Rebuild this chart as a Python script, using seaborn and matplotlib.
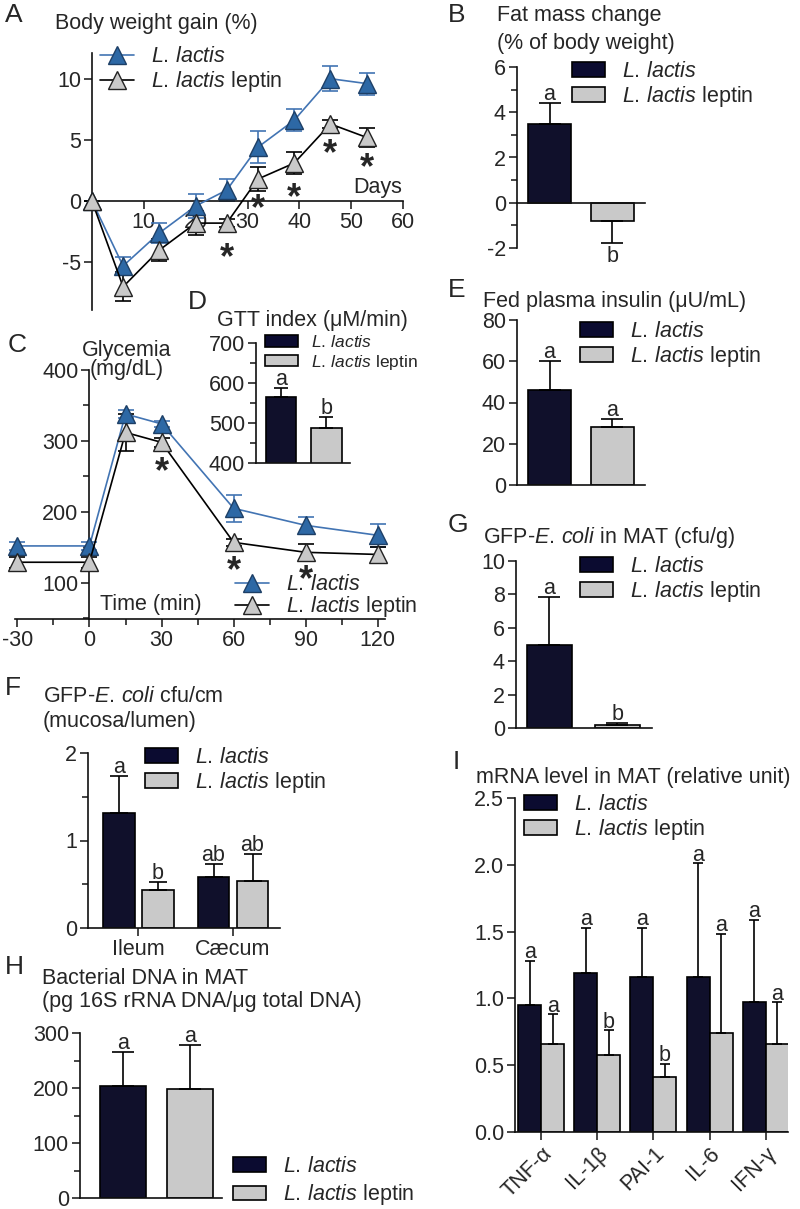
import numpy as np
import matplotlib
matplotlib.use('Agg')
import matplotlib.pyplot as plt
from matplotlib.patches import Patch
from matplotlib.lines import Line2D
from matplotlib.ticker import MultipleLocator
import pandas as pd
import seaborn as sns

sns.set_style('ticks')
plt.rcParams['font.family'] = ['Liberation Sans', 'DejaVu Sans']
plt.rcParams['mathtext.fontset'] = 'custom'
plt.rcParams['mathtext.rm'] = 'Liberation Sans'
plt.rcParams['mathtext.it'] = 'Liberation Sans:italic'
plt.rcParams['axes.unicode_minus'] = False

groups = [r'$\it{L.\,lactis}$', r'$\it{L.\,lactis}$ leptin']

# A - body weight gain
days = [0, 6, 13, 20, 26, 32, 39, 46, 53]
bw_ctrl = [0, -5.3, -2.6, -0.4, 0.9, 4.4, 6.6, 10.0, 9.6]
bw_ctrl_sem = [0, 0.7, 0.8, 1.0, 0.9, 1.3, 0.9, 1.0, 0.9]
bw_lep = [0, -7.0, -4.0, -1.8, -1.8, 1.8, 3.1, 6.3, 5.2]
bw_lep_sem = [0, 1.2, 0.9, 1.0, 0.3, 1.0, 0.9, 0.3, 0.8]
bw_star_day = [26, 32, 39, 46, 53]
bw_star_y = [-3.9, 0.1, 1.0, 4.6, 3.5]

# B - fat mass change
fat = [3.5, -0.8]
fat_sem = [0.9, 1.0]
fat_let = ['a', 'b']

# C - glycemia
gtt_time = [-30, 0, 15, 30, 60, 90, 120]
gly_ctrl = [152, 152, 338, 324, 205, 181, 167]
gly_ctrl_sem = [6, 6, 6, 4, 19, 12, 16]
gly_lep = [129, 129, 312, 298, 157, 143, 140]
gly_lep_sem = [8, 8, 26, 6, 5, 12, 10]
gly_star_t = [30, 60, 90]
gly_star_y = [269, 130, 117]

# D - GTT index
gtt_idx = [565, 488]
gtt_sem = [22, 27]
gtt_let = ['a', 'b']

# E - insulin
insulin = [46, 28]
insulin_sem = [14, 4]
insulin_let = ['a', 'a']

# F - GFP E. coli mucosa/lumen
sites = ['Ileum', 'Cæcum']
muc_ctrl = [1.32, 0.58]
muc_ctrl_sem = [0.42, 0.15]
muc_lep = [0.43, 0.54]
muc_lep_sem = [0.10, 0.31]
muc_let = ['a', 'ab', 'b', 'ab']

# G - GFP E. coli in MAT
mat_cfu = [5.0, 0.18]
mat_cfu_sem = [2.85, 0.12]
mat_cfu_let = ['a', 'b']

# H - bacterial DNA
dna = [203, 198]
dna_sem = [63, 80]
dna_let = ['a', 'a']

# I - mRNA
genes = ['TNF-α', 'IL-1β', 'PAI-1', 'IL-6', 'IFN-γ']
mrna_ctrl = [0.95, 1.19, 1.16, 1.16, 0.97]
mrna_ctrl_sem = [0.33, 0.34, 0.37, 0.85, 0.62]
mrna_lep = [0.66, 0.58, 0.41, 0.74, 0.66]
mrna_lep_sem = [0.22, 0.18, 0.10, 0.74, 0.31]
mrna_let = ['a'] * 5 + ['a', 'b', 'b', 'a', 'a']

navy = '#0b0b30'
lgray = '#c9c9c9'
bline = '#4274b3'
bface = '#2d68a5'
FS = 15.5

W, H = 800, 1209
fig = plt.figure(figsize=(W / 100, H / 100), dpi=100)


def add_ax(l, t, r, b):
    return fig.add_axes([l / W, 1 - b / H, (r - l) / W, (b - t) / H])


def ftxt(x, y, s, size=FS, **kw):
    fig.text(x / W, 1 - y / H, s, fontsize=size, va='center', **kw)


def style(ax):
    sns.despine(ax=ax)
    ax.tick_params(which='major', length=6, width=1.2, labelsize=FS, pad=2)
    ax.tick_params(which='minor', length=4, width=1.2)
    for s in ['left', 'bottom']:
        ax.spines[s].set_linewidth(1.2)
        ax.spines[s].set_color('#111111')
    ax.set_xlabel('')
    ax.set_ylabel('')
    ax.patch.set_alpha(0)


def leg(ax, handles, x, y, fs=FS, sp=0.1, hl=1.55):
    ax.legend(handles, groups, loc='upper left',
              bbox_to_anchor=(x / W, 1 - y / H), bbox_transform=fig.transFigure,
              frameon=False, fontsize=fs, handlelength=hl, handleheight=0.65,
              handletextpad=0.75, labelspacing=sp, borderpad=0, borderaxespad=0,
              numpoints=1)


patch_h = [Patch(facecolor=navy, edgecolor='black', lw=1.2),
           Patch(facecolor=lgray, edgecolor='black', lw=1.2)]


def bars(ax, df, x, hue, width, gap, errs, lets, cap, fs=FS):
    sns.barplot(data=df, x=x, y='value', hue=hue, palette=[navy, lgray],
                width=width, gap=gap, edgecolor='black', linewidth=1.2,
                errorbar=None, legend=False, ax=ax)
    rects = [p for c in ax.containers for p in c]
    for p, e, lab in zip(rects, errs, lets):
        cx = p.get_x() + p.get_width() / 2
        h = p.get_height()
        if h >= 0:
            ax.errorbar(cx, h, yerr=[[0], [e]], fmt='none', ecolor='black',
                        elinewidth=1.2, capsize=cap, capthick=1.2)
            ax.annotate(lab, (cx, h + e), xytext=(0, 2), textcoords='offset points',
                        ha='center', va='baseline', fontsize=fs)
        else:
            ax.errorbar(cx, h, yerr=[[e], [0]], fmt='none', ecolor='black',
                        elinewidth=1.2, capsize=cap, capthick=1.2)
            ax.annotate(lab, (cx, h - e), xytext=(0, -2), textcoords='offset points',
                        ha='center', va='top', fontsize=fs)


def series(ax, x, y, err, lc, fc, ec):
    ax.errorbar(x, y, yerr=err, fmt='none', ecolor=lc, elinewidth=1.2,
                capsize=5.5, capthick=1.2, zorder=2, clip_on=False)
    sns.lineplot(x=x, y=y, color=lc, lw=1.2, marker='^', markersize=13,
                 markerfacecolor=fc, markeredgecolor=ec, markeredgewidth=1.0,
                 ax=ax, zorder=3, clip_on=False)


line_h = [Line2D([0], [0], color=bline, lw=1.2, marker='^', ms=13, mfc=bface, mec='#1d3f66'),
          Line2D([0], [0], color='black', lw=1.2, marker='^', ms=13, mfc=lgray, mec='#222222')]

# ---------- A ----------
ax = add_ax(92, 53, 403, 310)
series(ax, days, bw_ctrl, bw_ctrl_sem, bline, bface, '#1d3f66')
series(ax, days, bw_lep, bw_lep_sem, 'black', lgray, '#222222')
for d, s in zip(bw_star_day, bw_star_y):
    ax.annotate('*', (d, s), xytext=(0, -14), textcoords='offset points',
                ha='center', va='baseline', fontsize=26, fontweight='bold')
style(ax)
ax.spines['bottom'].set_position(('data', 0))
ax.set_xlim(0, 60)
ax.set_ylim(-8.9, 12.1)
ax.set_xticks([10, 20, 30, 40, 50, 60])
ax.set_yticks([-5, 0, 5, 10])
leg(ax, line_h, 100, 46, hl=1.6)
ftxt(5, 15, 'A', size=19)
ftxt(55, 23, 'Body weight gain (%)')
ftxt(353, 188, 'Days')

# ---------- B ----------
ax = add_ax(517, 67, 645, 248)
bars(ax, pd.DataFrame({'g': groups, 'value': fat}), 'g', 'g', 0.67, 0,
     fat_sem, fat_let, 8)
style(ax)
ax.spines['bottom'].set_position(('data', 0))
ax.set_xticks([])
ax.set_xlim(-0.516, 1.516)
ax.set_ylim(-2, 6)
ax.set_yticks([-2, 0, 2, 4, 6])
ax.yaxis.set_minor_locator(MultipleLocator(1))
leg(ax, patch_h, 572, 61)
ftxt(448, 15, 'B', size=19)
ftxt(497, 15, 'Fat mass change')
ftxt(497, 43, '(% of body weight)')

# ---------- C ----------
ax = add_ax(15, 370, 385, 619)
series(ax, gtt_time, gly_ctrl, gly_ctrl_sem, bline, bface, '#1d3f66')
series(ax, gtt_time, gly_lep, gly_lep_sem, 'black', lgray, '#222222')
for t, s in zip(gly_star_t, gly_star_y):
    ax.annotate('*', (t, s), xytext=(0, -14), textcoords='offset points',
                ha='center', va='baseline', fontsize=26, fontweight='bold')
style(ax)
ax.spines['left'].set_position(('data', 0))
ax.set_xlim(-31, 123)
ax.set_ylim(49, 400)
ax.set_xticks([-30, 0, 30, 60, 90, 120])
ax.xaxis.set_minor_locator(MultipleLocator(15))
ax.set_yticks([100, 200, 300, 400])
ax.yaxis.set_minor_locator(MultipleLocator(50))
leg(ax, line_h, 235, 574, sp=-0.05, hl=1.6)
ftxt(8, 345, 'C', size=19)
ftxt(127, 350, 'Glycemia', ha='center')
ftxt(127, 369, '(mg/dL)', ha='center')
ftxt(100, 605, 'Time (min)')

# ---------- D ----------
ax = add_ax(256, 343, 350, 463)
bars(ax, pd.DataFrame({'g': groups, 'value': gtt_idx}), 'g', 'g', 0.68, 0,
     gtt_sem, gtt_let, 5)
style(ax)
ax.set_xticks([])
ax.set_xlim(-0.55, 1.52)
ax.set_ylim(400, 700)
ax.set_yticks([400, 500, 600, 700])
ax.yaxis.set_minor_locator(MultipleLocator(50))
leg(ax, patch_h, 265, 334, fs=12.5, sp=0.15, hl=1.9)
ftxt(188, 302, 'D', size=19)
ftxt(217, 320, 'GTT index (μM/min)')

# ---------- E ----------
ax = add_ax(517, 320, 645, 485)
bars(ax, pd.DataFrame({'g': groups, 'value': insulin}), 'g', 'g', 0.67, 0,
     insulin_sem, insulin_let, 8)
style(ax)
ax.set_xticks([])
ax.set_xlim(-0.516, 1.516)
ax.set_ylim(0, 80)
ax.set_yticks([0, 20, 40, 60, 80])
leg(ax, patch_h, 580, 321)
ftxt(448, 290, 'E', size=19)
ftxt(483, 302, 'Fed plasma insulin (μU/mL)')

# ---------- G ----------
ax = add_ax(516, 561, 652, 728)
bars(ax, pd.DataFrame({'g': groups, 'value': mat_cfu}), 'g', 'g', 0.66, 0,
     mat_cfu_sem, mat_cfu_let, 8)
style(ax)
ax.set_xticks([])
ax.set_xlim(-0.49, 1.51)
ax.set_ylim(0, 10)
ax.set_yticks([0, 2, 4, 6, 8, 10])
leg(ax, patch_h, 580, 556)
ftxt(448, 525, 'G', size=19)
ftxt(483, 538, r'GFP-$\it{E.\,coli}$ in MAT (cfu/g)')

# ---------- F ----------
ax = add_ax(88, 753, 280, 928)
df_f = pd.DataFrame({'site': sites * 2, 'g': [groups[0]] * 2 + [groups[1]] * 2,
                     'value': muc_ctrl + muc_lep})
bars(ax, df_f, 'site', 'g', 0.825, 0.2, muc_ctrl_sem + muc_lep_sem, muc_let, 6.5)
style(ax)
ax.set_xlim(-0.534, 1.497)
ax.set_ylim(0, 2)
ax.set_yticks([0, 1, 2])
ax.yaxis.set_minor_locator(MultipleLocator(0.5))
leg(ax, patch_h, 145, 747)
ftxt(5, 688, 'F', size=19)
ftxt(43, 697, r'GFP-$\it{E.\,coli}$ cfu/cm')
ftxt(43, 722, '(mucosa/lumen)')

# ---------- H ----------
ax = add_ax(80, 1033, 222, 1198)
bars(ax, pd.DataFrame({'g': groups, 'value': dna}), 'g', 'g', 0.68, 0,
     dna_sem, dna_let, 8)
style(ax)
ax.set_xticks([])
ax.set_xlim(-0.64, 1.48)
ax.set_ylim(0, 300)
ax.set_yticks([0, 100, 200, 300])
ax.yaxis.set_minor_locator(MultipleLocator(50))
leg(ax, patch_h, 233, 1156, sp=0.25)
ftxt(5, 967, 'H', size=19)
ftxt(42, 978, 'Bacterial DNA in MAT')
ftxt(42, 1002, '(pg 16S rRNA DNA/μg total DNA)')

# ---------- I ----------
ax = add_ax(515, 798, 788, 1132)
df_i = pd.DataFrame({'gene': genes * 2, 'g': [groups[0]] * 5 + [groups[1]] * 5,
                     'value': mrna_ctrl + mrna_lep})
bars(ax, df_i, 'gene', 'g', 0.82, 0, mrna_ctrl_sem + mrna_lep_sem, mrna_let, 3.8)
style(ax)
ax.set_xlim(-0.47, 4.40)
ax.set_ylim(0, 2.5)
ax.set_yticks([0, 0.5, 1.0, 1.5, 2.0, 2.5])
ax.set_yticklabels(['0.0', '0.5', '1.0', '1.5', '2.0', '2.5'])
ax.set_xticks(range(5))
ax.set_xticklabels(genes, rotation=45, ha='right', rotation_mode='anchor')
leg(ax, patch_h, 524, 794)
ftxt(453, 762, 'I', size=19)
ftxt(476, 777, 'mRNA level in MAT (relative unit)')

fig.savefig('out.png', dpi=100)
